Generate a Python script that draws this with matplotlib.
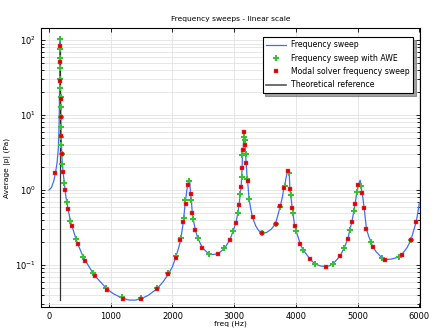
import numpy as np
import matplotlib
matplotlib.use('Agg')
import matplotlib.pyplot as plt
from matplotlib.ticker import LogLocator, NullFormatter, MultipleLocator

# ---------------- data ----------------
# Frequency sweep (continuous curve)
sweepFreq = [0, 40, 80, 103, 130, 150, 160, 166, 170, 173, 176, 178,
             179, 179.5, 180, 181, 181.5, 182, 183, 183.5, 185, 186.5, 187, 189, 191, 194,
             197, 198, 202, 206, 216, 227, 249, 260, 287, 309, 346, 373, 438, 466,
             557, 590, 715, 747, 915, 947, 1050, 1190, 1300, 1400, 1494, 1600, 1749,
             1850, 1932, 2000, 2051, 2100, 2133, 2178, 2208, 2244, 2260, 2270, 2280,
             2295, 2306, 2320, 2336, 2371, 2409, 2482, 2587, 2650, 2740, 2842, 2928,
             2980, 3028, 3060, 3080, 3097, 3113, 3120, 3128, 3134, 3145, 3155, 3161,
             3167, 3175, 3185, 3195, 3210, 3218, 3240, 3270, 3297, 3350, 3400, 3454,
             3520, 3600, 3670, 3746, 3780, 3805, 3816, 3840, 3860, 3868, 3880, 3892,
             3903, 3914, 3941, 3979, 4006, 4071, 4114, 4228, 4309, 4400, 4482, 4550,
             4601, 4715, 4780, 4839, 4872, 4907, 4937, 4961, 4985, 5012, 5040, 5052,
             5075, 5105, 5143, 5180, 5218, 5245, 5300, 5402, 5440, 5550, 5672, 5711,
             5800, 5862, 5950, 5975, 6000]
sweepVal = [1.0, 1.08, 1.35, 1.67, 2.3, 3.5, 6.0, 10.0, 18.0, 35.0, 70.0, 108.0,
            104.0, 84.0, 77.0, 58.0, 51.0, 42.0, 30.5, 28.7, 22.9, 17.4, 16.3, 12.8, 9.4, 6.9,
            5.27, 5.07, 3.93, 3.02, 2.23, 1.74, 1.23, 0.99, 0.685, 0.56, 0.385, 0.33, 0.22, 0.19,
            0.127, 0.114, 0.077, 0.071, 0.050, 0.047, 0.041, 0.036, 0.034, 0.034, 0.0356, 0.039, 0.048,
            0.060, 0.075, 0.095, 0.125, 0.17, 0.215, 0.39, 0.70, 1.16, 1.30, 1.33, 1.25,
            0.875, 0.735, 0.50, 0.41, 0.29, 0.23, 0.17, 0.141, 0.138, 0.141, 0.166, 0.215,
            0.28, 0.366, 0.50, 0.64, 0.88, 1.11, 1.5, 1.97, 2.97, 3.43, 5.17, 6.0,
            4.6, 4.0, 3.0, 2.3, 1.42, 1.3, 0.77, 0.55, 0.43, 0.33, 0.285, 0.27,
            0.27, 0.30, 0.355, 0.61, 0.80, 1.08, 1.13, 1.45, 1.75, 1.78, 1.70, 1.62,
            1.02, 0.87, 0.57, 0.33, 0.28, 0.19, 0.16, 0.12, 0.103, 0.097, 0.095, 0.098,
            0.104, 0.131, 0.168, 0.22, 0.29, 0.38, 0.52, 0.66, 0.93, 1.16, 1.35, 1.13,
            0.90, 0.58, 0.30, 0.24, 0.20, 0.175, 0.15, 0.122, 0.118, 0.12, 0.128, 0.137,
            0.17, 0.215, 0.38, 0.50, 0.68]

# Frequency sweep with AWE (green plus markers)
aweFreq = [179, 180, 181, 182, 183, 185, 186.5, 189, 191, 194, 198, 202, 206, 216,
           249, 287, 346, 438, 557, 715, 915, 1186, 1483, 1745, 1927, 2051, 2138, 2187,
           2208, 2270, 2306, 2336, 2409, 2587, 2842, 2980, 3060, 3097, 3120, 3134, 3155,
           3167, 3185, 3210, 3240, 3454, 3670, 3750, 3816, 3880, 3914, 3946, 4006, 4114,
           4309, 4601, 4780, 4872, 4937, 4985, 5052, 5218, 5402, 5672, 5862]
aweVal = [104.0, 77.0, 58.0, 42.0, 30.5, 22.9, 17.4, 12.8, 9.4, 6.9, 5.07, 3.93, 3.03, 2.23,
          1.23, 0.685, 0.385, 0.22, 0.127, 0.077, 0.050, 0.037, 0.036, 0.049, 0.078, 0.13, 0.23, 0.42,
          0.73, 1.32, 0.735, 0.41, 0.23, 0.141, 0.166, 0.28, 0.50, 0.88, 1.5, 2.97, 5.17,
          4.6, 3.0, 1.42, 0.77, 0.27, 0.35, 0.60, 1.13, 1.70, 0.87, 0.50, 0.28, 0.16,
          0.103, 0.104, 0.168, 0.29, 0.52, 0.93, 1.13, 0.20, 0.122, 0.128, 0.215]

# Modal solver frequency sweep (red square markers)
modalFreq = [103, 179.5, 181.5, 183.5, 187, 191, 197, 206, 227, 260, 309, 373, 466, 590,
             747, 947, 1202, 1494, 1749, 1932, 2051, 2128, 2176, 2214, 2244, 2295, 2320,
             2371, 2482, 2740, 2928, 3028, 3080, 3113, 3128, 3145, 3161, 3175, 3195, 3218,
             3297, 3454, 3670, 3746, 3805, 3868, 3903, 3941, 3979, 4071, 4228, 4482, 4715,
             4839, 4907, 4961, 5012, 5075, 5105, 5143, 5245, 5440, 5711, 5862, 5950]
modalVal = [1.67, 84.0, 51.0, 28.7, 16.3, 9.4, 5.27, 3.0, 1.74, 0.99, 0.56, 0.33, 0.19, 0.114,
            0.071, 0.047, 0.0354, 0.0356, 0.048, 0.075, 0.125, 0.215, 0.38, 0.66, 1.16, 0.875, 0.50,
            0.29, 0.17, 0.141, 0.215, 0.366, 0.64, 1.11, 1.97, 3.43, 6.0, 4.0, 2.3, 1.3,
            0.43, 0.27, 0.355, 0.61, 1.08, 1.78, 1.02, 0.57, 0.33, 0.19, 0.12, 0.095, 0.131,
            0.22, 0.38, 0.66, 1.16, 0.90, 0.58, 0.30, 0.175, 0.118, 0.137, 0.215, 0.38]

# Theoretical reference (vertical line)
theoryFreq = [174, 174]
theoryVal = [0.0345, 85.0]

# ---------------- graphics settings ----------------
fontSize = 5.4
legendFontSize = 5.6
blueColor = '#3f6ff2'
greenColor = '#36c236'
redColor = '#dd0000'
theoryColor = '#333333'
gridColor = '#e3e3e3'

plt.rcParams['font.family'] = 'DejaVu Sans'

fig = plt.figure(figsize=(4.34, 3.32), dpi=100)
ax = fig.add_axes([41 / 434, 1 - 307 / 332, 379 / 434, 279 / 332])

ax.plot(sweepFreq, sweepVal, color=blueColor, linewidth=0.9, label='Frequency sweep', zorder=3)
ax.plot(theoryFreq, theoryVal, color=theoryColor, linewidth=0.9, zorder=3.5)
ax.plot(aweFreq, aweVal, linestyle='none', marker='P', markersize=4.8, color=greenColor,
        markeredgewidth=0, label='Frequency sweep with AWE', zorder=4)
ax.plot(modalFreq, modalVal, linestyle='none', marker='s', markersize=3.4, color=redColor,
        markeredgecolor='#f05050', markeredgewidth=0.3, label='Modal solver frequency sweep', zorder=5)
# legend proxy for the theoretical reference (drawn grey in the legend)
ax.plot([], [], color='#555555', linewidth=1.2, label='Theoretical reference')

ax.set_yscale('log')
ax.set_xlim(-130, 6010)
ax.set_ylim(0.0275, 145)
ax.xaxis.set_major_locator(MultipleLocator(1000))
ax.yaxis.set_major_locator(LogLocator(base=10, numticks=10))
ax.yaxis.set_minor_locator(LogLocator(base=10, subs=np.arange(2, 10), numticks=20))
ax.yaxis.set_minor_formatter(NullFormatter())

ax.grid(True, which='major', axis='x', color=gridColor, linewidth=0.6)
ax.grid(True, which='both', axis='y', color=gridColor, linewidth=0.6)
ax.set_axisbelow(True)

ax.tick_params(axis='both', which='both', direction='in', top=True, right=True,
               labelsize=6.0, width=0.6)
ax.tick_params(axis='both', which='major', length=3)
ax.tick_params(axis='both', which='minor', length=2)
for sp in ax.spines.values():
    sp.set_linewidth(0.8)

ax.set_title('Frequency sweeps - linear scale', fontsize=fontSize, pad=5)
ax.set_xlabel('freq (Hz)', fontsize=fontSize, labelpad=0)
ax.set_ylabel('Average |p| (Pa)', fontsize=fontSize, labelpad=3)

leg = ax.legend(loc='upper right', bbox_to_anchor=(0.992, 0.982), fontsize=legendFontSize,
                frameon=True, fancybox=False, shadow=True, framealpha=1,
                edgecolor='black', handlelength=2.6, handletextpad=0.6,
                borderpad=0.45, labelspacing=0.55)
leg.get_frame().set_linewidth(0.8)

fig.savefig('out.png', dpi=100)
